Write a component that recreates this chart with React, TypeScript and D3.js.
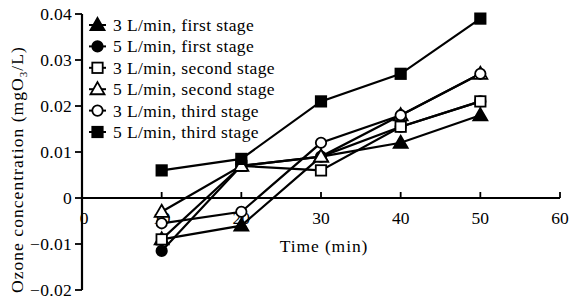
import * as d3 from 'd3'

const times = [10, 20, 30, 40, 50]
const seriesNames = [
  '3 L/min, first stage',
  '5 L/min, first stage',
  '3 L/min, second stage',
  '5 L/min, second stage',
  '3 L/min, third stage',
  '5 L/min, third stage',
]
const seriesMarkers = ['triangle', 'circle', 'square', 'triangle', 'circle', 'square']
const seriesFilled = [true, true, false, false, false, true]
const firstStage3 = [-0.009, -0.006, 0.009, 0.012, 0.018]
const firstStage5 = [-0.0115, 0.007, 0.009, 0.0155, 0.021]
const secondStage3 = [-0.009, 0.007, 0.006, 0.0155, 0.021]
const secondStage5 = [-0.003, 0.007, 0.009, 0.018, 0.027]
const thirdStage3 = [-0.0055, -0.003, 0.012, 0.018, 0.027]
const thirdStage5 = [0.006, 0.0085, 0.021, 0.027, 0.039]
const seriesValues = [firstStage3, firstStage5, secondStage3, secondStage5, thirdStage3, thirdStage5]
const xTicks = [0, 10, 20, 30, 40, 50, 60]
const yTicks = [0.04, 0.03, 0.02, 0.01, 0, -0.01, -0.02]

const W = 571
const H = 305
const font = '"Liberation Serif", "Times New Roman", serif'

function Marker({ kind, filled, x, y }: { kind: string; filled: boolean; x: number; y: number }) {
  const fill = filled ? '#000' : '#fff'
  const common = { fill, stroke: '#000', strokeWidth: 1.8 }
  if (kind === 'circle') return <circle cx={x} cy={y} r={5.2} {...common} />
  if (kind === 'square') return <rect x={x - 5.2} y={y - 5.2} width={10.4} height={10.4} {...common} />
  const tri = d3.symbol().type(d3.symbolTriangle).size(85)()
  return <path d={tri || ''} transform={`translate(${x},${y + 1})`} {...common} />
}

export default function App() {
  const x = d3.scaleLinear().domain([0, 60]).range([82, 560])
  const y = d3.scaleLinear().domain([-0.02, 0.04]).range([290, 14])
  const line = d3
    .line<number>()
    .x((_, i) => x(times[i]))
    .y((d) => y(d))

  return (
    <div style={{ position: 'absolute', left: 0, top: 0 }}>
      <svg width={W} height={H} style={{ display: 'block', background: '#fff' }} fontFamily={font}>
        {/* axes */}
        <line x1={x(0)} x2={x(0)} y1={y(0.04)} y2={y(-0.02)} stroke="#000" strokeWidth={2.2} />
        <line x1={x(0)} x2={x(60)} y1={y(0)} y2={y(0)} stroke="#000" strokeWidth={2.2} />
        {yTicks.map((t) => (
          <g key={'y' + t}>
            <line x1={x(0) - 7} x2={x(0)} y1={y(t)} y2={y(t)} stroke="#000" strokeWidth={1.8} />
            <text x={x(0) - 10} y={y(t) + 6} textAnchor="end" fontSize={17.5} letterSpacing={0.3}>
              {t === 0 ? '0' : d3.format('.2f')(t)}
            </text>
          </g>
        ))}
        {xTicks.map((t) => (
          <g key={'x' + t}>
            {t > 0 && <line x1={x(t)} x2={x(t)} y1={y(0) - 6} y2={y(0)} stroke="#000" strokeWidth={1.8} />}
            <text x={x(t) + (t === 0 ? 2 : 0)} y={y(0) + 26} textAnchor="middle" fontSize={17.5}>
              {t}
            </text>
          </g>
        ))}
        <text x={324} y={252} textAnchor="middle" fontSize={17.5} letterSpacing={0.9}>
          Time (min)
        </text>
        <text transform={`translate(23,293) rotate(-90)`} textAnchor="start" fontSize={17.5} letterSpacing={1.05}>
          Ozone concentration (mgO<tspan dy={4} fontSize={11}>3</tspan>
          <tspan dy={-4}>/L)</tspan>
        </text>

        {/* series */}
        {seriesValues.map((vals, s) => (
          <path key={'l' + s} d={line(vals) || ''} fill="none" stroke="#000" strokeWidth={2.2} />
        ))}
        {seriesValues.map((vals, s) =>
          vals.map((v, i) => (
            <Marker key={`m${s}-${i}`} kind={seriesMarkers[s]} filled={seriesFilled[s]} x={x(times[i])} y={y(v)} />
          ))
        )}

        {/* legend */}
        {seriesNames.map((name, i) => {
          const ly = 25 + i * 21.4
          return (
            <g key={'lg' + i}>
              <line x1={89} x2={106} y1={ly} y2={ly} stroke="#000" strokeWidth={2} />
              <Marker kind={seriesMarkers[i]} filled={seriesFilled[i]} x={97.5} y={ly} />
              <text x={113} y={ly + 6} fontSize={17.5} letterSpacing={0.4}>
                {name}
              </text>
            </g>
          )
        })}
      </svg>
    </div>
  )
}
